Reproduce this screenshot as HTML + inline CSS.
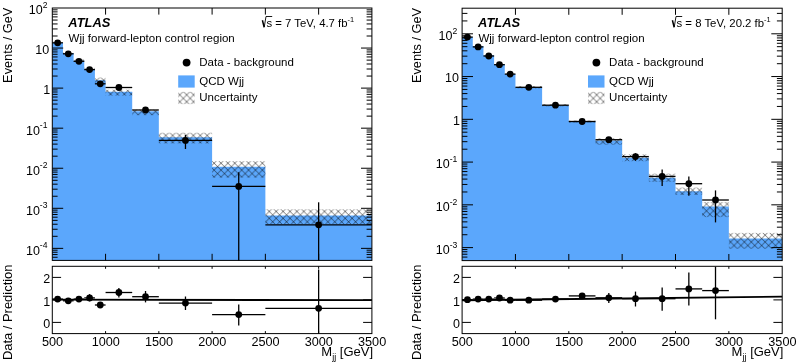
<!DOCTYPE html>
<html><head><meta charset="utf-8"><style>
html,body{margin:0;padding:0;background:#fff;}
svg{display:block;will-change:transform;}
text{font-family:"Liberation Sans",sans-serif;fill:#000;}
.t12{font-size:12px;}
.tl{font-size:12.5px;}
.t13{font-size:13px;}
.t127{font-size:12.7px;}
.sup2{font-size:7.5px;}
.t11{font-size:11.5px;}
.sup{font-size:8.6px;}
.sub{font-size:8.8px;}
.atlas{font-size:12.7px;font-weight:bold;font-style:italic;}
</style></head><body>
<svg width="798" height="363" viewBox="0 0 798 363">
<defs>
<pattern id="hatchL" patternUnits="userSpaceOnUse" width="6.9" height="6.9" patternTransform="translate(214.963,164.925)"><path d="M0.263,-0.600 L7.500,6.638 M-0.600,5.438 L1.462,7.500 M-0.600,4.912 L4.912,-0.600 M3.712,7.500 L7.500,3.712" stroke="#000" stroke-opacity="0.62" stroke-width="0.9" fill="none"/></pattern>
<pattern id="hatchR" patternUnits="userSpaceOnUse" width="6.9" height="6.9" patternTransform="translate(738.362,236.825)"><path d="M0.263,-0.600 L7.500,6.638 M-0.600,5.438 L1.462,7.500 M-0.600,4.912 L4.912,-0.600 M3.712,7.500 L7.500,3.712" stroke="#000" stroke-opacity="0.62" stroke-width="0.9" fill="none"/></pattern>
<pattern id="hatchLL" patternUnits="userSpaceOnUse" width="6.9" height="6.9" patternTransform="translate(180.663,96.625)"><path d="M0.263,-0.600 L7.500,6.638 M-0.600,5.438 L1.462,7.500 M-0.600,4.912 L4.912,-0.600 M3.712,7.500 L7.500,3.712" stroke="#000" stroke-opacity="0.62" stroke-width="0.9" fill="none"/></pattern>
<pattern id="hatchRL" patternUnits="userSpaceOnUse" width="6.9" height="6.9" patternTransform="translate(590.662,96.625)"><path d="M0.263,-0.600 L7.500,6.638 M-0.600,5.438 L1.462,7.500 M-0.600,4.912 L4.912,-0.600 M3.712,7.500 L7.500,3.712" stroke="#000" stroke-opacity="0.62" stroke-width="0.9" fill="none"/></pattern>
</defs>
<rect width="798" height="363" fill="#fff"/>
<polygon fill="#5ba7fc" points="52.3,260.4 52.3,43 62.95,43 62.95,53.1 73.61,53.1 73.61,60.8 84.26,60.8 84.26,68.9 94.91,68.9 94.91,80.3 105.57,80.3 105.57,91.7 132.2,91.7 132.2,111.3 158.83,111.3 158.83,137.2 212.1,137.2 212.1,166.8 265.37,166.8 265.37,215.4 371.9,215.4 371.9,260.4"/>
<rect x="52.3" y="41.5" width="10.65" height="2.1" fill="url(#hatchL)"/>
<rect x="62.95" y="52.2" width="10.65" height="2" fill="url(#hatchL)"/>
<rect x="73.61" y="59.6" width="10.65" height="2.2" fill="url(#hatchL)"/>
<rect x="84.26" y="67.6" width="10.65" height="2.6" fill="url(#hatchL)"/>
<rect x="94.91" y="77.6" width="10.65" height="6.4" fill="url(#hatchL)"/>
<rect x="105.57" y="89.7" width="26.63" height="5.9" fill="url(#hatchL)"/>
<rect x="132.2" y="109.6" width="26.63" height="5.6" fill="url(#hatchL)"/>
<rect x="158.83" y="132.8" width="53.27" height="10.6" fill="url(#hatchL)"/>
<rect x="212.1" y="161.2" width="53.27" height="16.4" fill="url(#hatchL)"/>
<rect x="265.37" y="209.3" width="106.53" height="14.6" fill="url(#hatchL)"/>
<line x1="52.3" y1="42.8" x2="62.95" y2="42.8" stroke="#000" stroke-width="1.3"/>
<circle cx="57.63" cy="42.8" r="3.4" fill="#000"/>
<line x1="62.95" y1="53.8" x2="73.61" y2="53.8" stroke="#000" stroke-width="1.3"/>
<circle cx="68.28" cy="53.8" r="3.4" fill="#000"/>
<line x1="73.61" y1="61.3" x2="84.26" y2="61.3" stroke="#000" stroke-width="1.3"/>
<circle cx="78.93" cy="61.3" r="3.4" fill="#000"/>
<line x1="84.26" y1="69.6" x2="94.91" y2="69.6" stroke="#000" stroke-width="1.3"/>
<circle cx="89.59" cy="69.6" r="3.4" fill="#000"/>
<line x1="94.91" y1="83.8" x2="105.57" y2="83.8" stroke="#000" stroke-width="1.3"/>
<circle cx="100.24" cy="83.8" r="3.4" fill="#000"/>
<line x1="105.57" y1="87.5" x2="132.2" y2="87.5" stroke="#000" stroke-width="1.3"/>
<circle cx="118.88" cy="87.5" r="3.4" fill="#000"/>
<line x1="132.2" y1="110" x2="158.83" y2="110" stroke="#000" stroke-width="1.3"/>
<circle cx="145.52" cy="110" r="3.4" fill="#000"/>
<line x1="158.83" y1="140.4" x2="212.1" y2="140.4" stroke="#000" stroke-width="1.3"/>
<line x1="185.47" y1="135" x2="185.47" y2="149" stroke="#000" stroke-width="1.3"/>
<circle cx="185.47" cy="140.4" r="3.4" fill="#000"/>
<line x1="212.1" y1="186.4" x2="265.37" y2="186.4" stroke="#000" stroke-width="1.3"/>
<line x1="238.73" y1="172.2" x2="238.73" y2="260.4" stroke="#000" stroke-width="1.3"/>
<circle cx="238.73" cy="186.4" r="3.4" fill="#000"/>
<line x1="265.37" y1="224.8" x2="371.9" y2="224.8" stroke="#000" stroke-width="1.3"/>
<line x1="318.63" y1="202.3" x2="318.63" y2="260.4" stroke="#000" stroke-width="1.3"/>
<circle cx="318.63" cy="224.8" r="3.4" fill="#000"/>
<line x1="52.3" y1="257.25" x2="57.6" y2="257.25" stroke="#000" stroke-width="1"/>
<line x1="371.9" y1="257.25" x2="366.6" y2="257.25" stroke="#000" stroke-width="1"/>
<line x1="52.3" y1="254.57" x2="57.6" y2="254.57" stroke="#000" stroke-width="1"/>
<line x1="371.9" y1="254.57" x2="366.6" y2="254.57" stroke="#000" stroke-width="1"/>
<line x1="52.3" y1="252.24" x2="57.6" y2="252.24" stroke="#000" stroke-width="1"/>
<line x1="371.9" y1="252.24" x2="366.6" y2="252.24" stroke="#000" stroke-width="1"/>
<line x1="52.3" y1="250.19" x2="57.6" y2="250.19" stroke="#000" stroke-width="1"/>
<line x1="371.9" y1="250.19" x2="366.6" y2="250.19" stroke="#000" stroke-width="1"/>
<line x1="52.3" y1="248.36" x2="63.2" y2="248.36" stroke="#000" stroke-width="1"/>
<line x1="371.9" y1="248.36" x2="361" y2="248.36" stroke="#000" stroke-width="1"/>
<line x1="52.3" y1="236.3" x2="57.6" y2="236.3" stroke="#000" stroke-width="1"/>
<line x1="371.9" y1="236.3" x2="366.6" y2="236.3" stroke="#000" stroke-width="1"/>
<line x1="52.3" y1="229.25" x2="57.6" y2="229.25" stroke="#000" stroke-width="1"/>
<line x1="371.9" y1="229.25" x2="366.6" y2="229.25" stroke="#000" stroke-width="1"/>
<line x1="52.3" y1="224.24" x2="57.6" y2="224.24" stroke="#000" stroke-width="1"/>
<line x1="371.9" y1="224.24" x2="366.6" y2="224.24" stroke="#000" stroke-width="1"/>
<line x1="52.3" y1="220.36" x2="57.6" y2="220.36" stroke="#000" stroke-width="1"/>
<line x1="371.9" y1="220.36" x2="366.6" y2="220.36" stroke="#000" stroke-width="1"/>
<line x1="52.3" y1="217.19" x2="57.6" y2="217.19" stroke="#000" stroke-width="1"/>
<line x1="371.9" y1="217.19" x2="366.6" y2="217.19" stroke="#000" stroke-width="1"/>
<line x1="52.3" y1="214.51" x2="57.6" y2="214.51" stroke="#000" stroke-width="1"/>
<line x1="371.9" y1="214.51" x2="366.6" y2="214.51" stroke="#000" stroke-width="1"/>
<line x1="52.3" y1="212.18" x2="57.6" y2="212.18" stroke="#000" stroke-width="1"/>
<line x1="371.9" y1="212.18" x2="366.6" y2="212.18" stroke="#000" stroke-width="1"/>
<line x1="52.3" y1="210.13" x2="57.6" y2="210.13" stroke="#000" stroke-width="1"/>
<line x1="371.9" y1="210.13" x2="366.6" y2="210.13" stroke="#000" stroke-width="1"/>
<line x1="52.3" y1="208.3" x2="63.2" y2="208.3" stroke="#000" stroke-width="1"/>
<line x1="371.9" y1="208.3" x2="361" y2="208.3" stroke="#000" stroke-width="1"/>
<line x1="52.3" y1="196.24" x2="57.6" y2="196.24" stroke="#000" stroke-width="1"/>
<line x1="371.9" y1="196.24" x2="366.6" y2="196.24" stroke="#000" stroke-width="1"/>
<line x1="52.3" y1="189.19" x2="57.6" y2="189.19" stroke="#000" stroke-width="1"/>
<line x1="371.9" y1="189.19" x2="366.6" y2="189.19" stroke="#000" stroke-width="1"/>
<line x1="52.3" y1="184.18" x2="57.6" y2="184.18" stroke="#000" stroke-width="1"/>
<line x1="371.9" y1="184.18" x2="366.6" y2="184.18" stroke="#000" stroke-width="1"/>
<line x1="52.3" y1="180.3" x2="57.6" y2="180.3" stroke="#000" stroke-width="1"/>
<line x1="371.9" y1="180.3" x2="366.6" y2="180.3" stroke="#000" stroke-width="1"/>
<line x1="52.3" y1="177.13" x2="57.6" y2="177.13" stroke="#000" stroke-width="1"/>
<line x1="371.9" y1="177.13" x2="366.6" y2="177.13" stroke="#000" stroke-width="1"/>
<line x1="52.3" y1="174.45" x2="57.6" y2="174.45" stroke="#000" stroke-width="1"/>
<line x1="371.9" y1="174.45" x2="366.6" y2="174.45" stroke="#000" stroke-width="1"/>
<line x1="52.3" y1="172.12" x2="57.6" y2="172.12" stroke="#000" stroke-width="1"/>
<line x1="371.9" y1="172.12" x2="366.6" y2="172.12" stroke="#000" stroke-width="1"/>
<line x1="52.3" y1="170.07" x2="57.6" y2="170.07" stroke="#000" stroke-width="1"/>
<line x1="371.9" y1="170.07" x2="366.6" y2="170.07" stroke="#000" stroke-width="1"/>
<line x1="52.3" y1="168.24" x2="63.2" y2="168.24" stroke="#000" stroke-width="1"/>
<line x1="371.9" y1="168.24" x2="361" y2="168.24" stroke="#000" stroke-width="1"/>
<line x1="52.3" y1="156.18" x2="57.6" y2="156.18" stroke="#000" stroke-width="1"/>
<line x1="371.9" y1="156.18" x2="366.6" y2="156.18" stroke="#000" stroke-width="1"/>
<line x1="52.3" y1="149.13" x2="57.6" y2="149.13" stroke="#000" stroke-width="1"/>
<line x1="371.9" y1="149.13" x2="366.6" y2="149.13" stroke="#000" stroke-width="1"/>
<line x1="52.3" y1="144.12" x2="57.6" y2="144.12" stroke="#000" stroke-width="1"/>
<line x1="371.9" y1="144.12" x2="366.6" y2="144.12" stroke="#000" stroke-width="1"/>
<line x1="52.3" y1="140.24" x2="57.6" y2="140.24" stroke="#000" stroke-width="1"/>
<line x1="371.9" y1="140.24" x2="366.6" y2="140.24" stroke="#000" stroke-width="1"/>
<line x1="52.3" y1="137.07" x2="57.6" y2="137.07" stroke="#000" stroke-width="1"/>
<line x1="371.9" y1="137.07" x2="366.6" y2="137.07" stroke="#000" stroke-width="1"/>
<line x1="52.3" y1="134.39" x2="57.6" y2="134.39" stroke="#000" stroke-width="1"/>
<line x1="371.9" y1="134.39" x2="366.6" y2="134.39" stroke="#000" stroke-width="1"/>
<line x1="52.3" y1="132.06" x2="57.6" y2="132.06" stroke="#000" stroke-width="1"/>
<line x1="371.9" y1="132.06" x2="366.6" y2="132.06" stroke="#000" stroke-width="1"/>
<line x1="52.3" y1="130.01" x2="57.6" y2="130.01" stroke="#000" stroke-width="1"/>
<line x1="371.9" y1="130.01" x2="366.6" y2="130.01" stroke="#000" stroke-width="1"/>
<line x1="52.3" y1="128.18" x2="63.2" y2="128.18" stroke="#000" stroke-width="1"/>
<line x1="371.9" y1="128.18" x2="361" y2="128.18" stroke="#000" stroke-width="1"/>
<line x1="52.3" y1="116.12" x2="57.6" y2="116.12" stroke="#000" stroke-width="1"/>
<line x1="371.9" y1="116.12" x2="366.6" y2="116.12" stroke="#000" stroke-width="1"/>
<line x1="52.3" y1="109.07" x2="57.6" y2="109.07" stroke="#000" stroke-width="1"/>
<line x1="371.9" y1="109.07" x2="366.6" y2="109.07" stroke="#000" stroke-width="1"/>
<line x1="52.3" y1="104.06" x2="57.6" y2="104.06" stroke="#000" stroke-width="1"/>
<line x1="371.9" y1="104.06" x2="366.6" y2="104.06" stroke="#000" stroke-width="1"/>
<line x1="52.3" y1="100.18" x2="57.6" y2="100.18" stroke="#000" stroke-width="1"/>
<line x1="371.9" y1="100.18" x2="366.6" y2="100.18" stroke="#000" stroke-width="1"/>
<line x1="52.3" y1="97.01" x2="57.6" y2="97.01" stroke="#000" stroke-width="1"/>
<line x1="371.9" y1="97.01" x2="366.6" y2="97.01" stroke="#000" stroke-width="1"/>
<line x1="52.3" y1="94.33" x2="57.6" y2="94.33" stroke="#000" stroke-width="1"/>
<line x1="371.9" y1="94.33" x2="366.6" y2="94.33" stroke="#000" stroke-width="1"/>
<line x1="52.3" y1="92" x2="57.6" y2="92" stroke="#000" stroke-width="1"/>
<line x1="371.9" y1="92" x2="366.6" y2="92" stroke="#000" stroke-width="1"/>
<line x1="52.3" y1="89.95" x2="57.6" y2="89.95" stroke="#000" stroke-width="1"/>
<line x1="371.9" y1="89.95" x2="366.6" y2="89.95" stroke="#000" stroke-width="1"/>
<line x1="52.3" y1="88.12" x2="63.2" y2="88.12" stroke="#000" stroke-width="1"/>
<line x1="371.9" y1="88.12" x2="361" y2="88.12" stroke="#000" stroke-width="1"/>
<line x1="52.3" y1="76.06" x2="57.6" y2="76.06" stroke="#000" stroke-width="1"/>
<line x1="371.9" y1="76.06" x2="366.6" y2="76.06" stroke="#000" stroke-width="1"/>
<line x1="52.3" y1="69.01" x2="57.6" y2="69.01" stroke="#000" stroke-width="1"/>
<line x1="371.9" y1="69.01" x2="366.6" y2="69.01" stroke="#000" stroke-width="1"/>
<line x1="52.3" y1="64" x2="57.6" y2="64" stroke="#000" stroke-width="1"/>
<line x1="371.9" y1="64" x2="366.6" y2="64" stroke="#000" stroke-width="1"/>
<line x1="52.3" y1="60.12" x2="57.6" y2="60.12" stroke="#000" stroke-width="1"/>
<line x1="371.9" y1="60.12" x2="366.6" y2="60.12" stroke="#000" stroke-width="1"/>
<line x1="52.3" y1="56.95" x2="57.6" y2="56.95" stroke="#000" stroke-width="1"/>
<line x1="371.9" y1="56.95" x2="366.6" y2="56.95" stroke="#000" stroke-width="1"/>
<line x1="52.3" y1="54.27" x2="57.6" y2="54.27" stroke="#000" stroke-width="1"/>
<line x1="371.9" y1="54.27" x2="366.6" y2="54.27" stroke="#000" stroke-width="1"/>
<line x1="52.3" y1="51.94" x2="57.6" y2="51.94" stroke="#000" stroke-width="1"/>
<line x1="371.9" y1="51.94" x2="366.6" y2="51.94" stroke="#000" stroke-width="1"/>
<line x1="52.3" y1="49.89" x2="57.6" y2="49.89" stroke="#000" stroke-width="1"/>
<line x1="371.9" y1="49.89" x2="366.6" y2="49.89" stroke="#000" stroke-width="1"/>
<line x1="52.3" y1="48.06" x2="63.2" y2="48.06" stroke="#000" stroke-width="1"/>
<line x1="371.9" y1="48.06" x2="361" y2="48.06" stroke="#000" stroke-width="1"/>
<line x1="52.3" y1="36" x2="57.6" y2="36" stroke="#000" stroke-width="1"/>
<line x1="371.9" y1="36" x2="366.6" y2="36" stroke="#000" stroke-width="1"/>
<line x1="52.3" y1="28.95" x2="57.6" y2="28.95" stroke="#000" stroke-width="1"/>
<line x1="371.9" y1="28.95" x2="366.6" y2="28.95" stroke="#000" stroke-width="1"/>
<line x1="52.3" y1="23.94" x2="57.6" y2="23.94" stroke="#000" stroke-width="1"/>
<line x1="371.9" y1="23.94" x2="366.6" y2="23.94" stroke="#000" stroke-width="1"/>
<line x1="52.3" y1="20.06" x2="57.6" y2="20.06" stroke="#000" stroke-width="1"/>
<line x1="371.9" y1="20.06" x2="366.6" y2="20.06" stroke="#000" stroke-width="1"/>
<line x1="52.3" y1="16.89" x2="57.6" y2="16.89" stroke="#000" stroke-width="1"/>
<line x1="371.9" y1="16.89" x2="366.6" y2="16.89" stroke="#000" stroke-width="1"/>
<line x1="52.3" y1="14.21" x2="57.6" y2="14.21" stroke="#000" stroke-width="1"/>
<line x1="371.9" y1="14.21" x2="366.6" y2="14.21" stroke="#000" stroke-width="1"/>
<line x1="52.3" y1="11.88" x2="57.6" y2="11.88" stroke="#000" stroke-width="1"/>
<line x1="371.9" y1="11.88" x2="366.6" y2="11.88" stroke="#000" stroke-width="1"/>
<line x1="52.3" y1="9.83" x2="57.6" y2="9.83" stroke="#000" stroke-width="1"/>
<line x1="371.9" y1="9.83" x2="366.6" y2="9.83" stroke="#000" stroke-width="1"/>
<line x1="105.57" y1="8" x2="105.57" y2="14.6" stroke="#000" stroke-width="1"/>
<line x1="105.57" y1="260.4" x2="105.57" y2="253.8" stroke="#000" stroke-width="1"/>
<line x1="158.83" y1="8" x2="158.83" y2="14.6" stroke="#000" stroke-width="1"/>
<line x1="158.83" y1="260.4" x2="158.83" y2="253.8" stroke="#000" stroke-width="1"/>
<line x1="212.1" y1="8" x2="212.1" y2="14.6" stroke="#000" stroke-width="1"/>
<line x1="212.1" y1="260.4" x2="212.1" y2="253.8" stroke="#000" stroke-width="1"/>
<line x1="265.37" y1="8" x2="265.37" y2="14.6" stroke="#000" stroke-width="1"/>
<line x1="265.37" y1="260.4" x2="265.37" y2="253.8" stroke="#000" stroke-width="1"/>
<line x1="318.63" y1="8" x2="318.63" y2="14.6" stroke="#000" stroke-width="1"/>
<line x1="318.63" y1="260.4" x2="318.63" y2="253.8" stroke="#000" stroke-width="1"/>
<rect x="52.3" y="8" width="319.6" height="252.4" fill="none" stroke="#000" stroke-width="1"/>
<line x1="52.3" y1="299.6" x2="371.9" y2="300.2" stroke="#000" stroke-width="1.8"/>
<line x1="52.3" y1="299.1" x2="62.95" y2="299.1" stroke="#000" stroke-width="1.3"/>
<circle cx="57.63" cy="299.1" r="3.4" fill="#000"/>
<line x1="62.95" y1="300.8" x2="73.61" y2="300.8" stroke="#000" stroke-width="1.3"/>
<circle cx="68.28" cy="300.8" r="3.4" fill="#000"/>
<line x1="73.61" y1="299.1" x2="84.26" y2="299.1" stroke="#000" stroke-width="1.3"/>
<circle cx="78.93" cy="299.1" r="3.4" fill="#000"/>
<line x1="84.26" y1="297.9" x2="94.91" y2="297.9" stroke="#000" stroke-width="1.3"/>
<line x1="89.59" y1="294.1" x2="89.59" y2="301.5" stroke="#000" stroke-width="1.3"/>
<circle cx="89.59" cy="297.9" r="3.4" fill="#000"/>
<line x1="94.91" y1="305" x2="105.57" y2="305" stroke="#000" stroke-width="1.3"/>
<circle cx="100.24" cy="305" r="3.4" fill="#000"/>
<line x1="105.57" y1="292.5" x2="132.2" y2="292.5" stroke="#000" stroke-width="1.3"/>
<line x1="118.88" y1="288" x2="118.88" y2="297.5" stroke="#000" stroke-width="1.3"/>
<circle cx="118.88" cy="292.5" r="3.4" fill="#000"/>
<line x1="132.2" y1="296.7" x2="158.83" y2="296.7" stroke="#000" stroke-width="1.3"/>
<line x1="145.52" y1="291" x2="145.52" y2="302.4" stroke="#000" stroke-width="1.3"/>
<circle cx="145.52" cy="296.7" r="3.4" fill="#000"/>
<line x1="158.83" y1="303.1" x2="212.1" y2="303.1" stroke="#000" stroke-width="1.3"/>
<line x1="185.47" y1="296.5" x2="185.47" y2="310" stroke="#000" stroke-width="1.3"/>
<circle cx="185.47" cy="303.1" r="3.4" fill="#000"/>
<line x1="212.1" y1="314.6" x2="265.37" y2="314.6" stroke="#000" stroke-width="1.3"/>
<line x1="238.73" y1="304.5" x2="238.73" y2="325.5" stroke="#000" stroke-width="1.3"/>
<circle cx="238.73" cy="314.6" r="3.4" fill="#000"/>
<line x1="265.37" y1="308.3" x2="371.9" y2="308.3" stroke="#000" stroke-width="1.3"/>
<line x1="318.63" y1="269.5" x2="318.63" y2="333.6" stroke="#000" stroke-width="1.3"/>
<circle cx="318.63" cy="308.3" r="3.4" fill="#000"/>
<line x1="52.3" y1="322.4" x2="61.1" y2="322.4" stroke="#000" stroke-width="1"/>
<line x1="371.9" y1="322.4" x2="363.1" y2="322.4" stroke="#000" stroke-width="1"/>
<line x1="52.3" y1="299.9" x2="61.1" y2="299.9" stroke="#000" stroke-width="1"/>
<line x1="371.9" y1="299.9" x2="363.1" y2="299.9" stroke="#000" stroke-width="1"/>
<line x1="52.3" y1="277.4" x2="61.1" y2="277.4" stroke="#000" stroke-width="1"/>
<line x1="371.9" y1="277.4" x2="363.1" y2="277.4" stroke="#000" stroke-width="1"/>
<line x1="105.57" y1="266.3" x2="105.57" y2="268.8" stroke="#000" stroke-width="1"/>
<line x1="105.57" y1="333.6" x2="105.57" y2="331.1" stroke="#000" stroke-width="1"/>
<line x1="158.83" y1="266.3" x2="158.83" y2="268.8" stroke="#000" stroke-width="1"/>
<line x1="158.83" y1="333.6" x2="158.83" y2="331.1" stroke="#000" stroke-width="1"/>
<line x1="212.1" y1="266.3" x2="212.1" y2="268.8" stroke="#000" stroke-width="1"/>
<line x1="212.1" y1="333.6" x2="212.1" y2="331.1" stroke="#000" stroke-width="1"/>
<line x1="265.37" y1="266.3" x2="265.37" y2="268.8" stroke="#000" stroke-width="1"/>
<line x1="265.37" y1="333.6" x2="265.37" y2="331.1" stroke="#000" stroke-width="1"/>
<line x1="318.63" y1="266.3" x2="318.63" y2="268.8" stroke="#000" stroke-width="1"/>
<line x1="318.63" y1="333.6" x2="318.63" y2="331.1" stroke="#000" stroke-width="1"/>
<rect x="52.3" y="266.3" width="319.6" height="67.3" fill="none" stroke="#000" stroke-width="1"/>
<text x="47.5" y="254.76" text-anchor="end" class="tl">10<tspan class="sup" dy="-6.3">-4</tspan></text>
<text x="47.5" y="214.7" text-anchor="end" class="tl">10<tspan class="sup" dy="-6.3">-3</tspan></text>
<text x="47.5" y="174.64" text-anchor="end" class="tl">10<tspan class="sup" dy="-6.3">-2</tspan></text>
<text x="47.5" y="134.58" text-anchor="end" class="tl">10<tspan class="sup" dy="-6.3">-1</tspan></text>
<text x="50.1" y="94.02" text-anchor="end" class="tl">1</text>
<text x="49.1" y="53.96" text-anchor="end" class="tl">10</text>
<text x="47.5" y="14.4" text-anchor="end" class="tl">10<tspan class="sup" dy="-6.3">2</tspan></text>
<text x="50.2" y="328" text-anchor="end" class="tl">0</text>
<text x="50.2" y="305.5" text-anchor="end" class="tl">1</text>
<text x="50.2" y="283" text-anchor="end" class="tl">2</text>
<text x="52.5" y="345.6" text-anchor="middle" class="t12" textLength="21.2" lengthAdjust="spacingAndGlyphs">500</text>
<text x="105.77" y="345.6" text-anchor="middle" class="t12" textLength="28.2" lengthAdjust="spacingAndGlyphs">1000</text>
<text x="159.03" y="345.6" text-anchor="middle" class="t12" textLength="28.2" lengthAdjust="spacingAndGlyphs">1500</text>
<text x="212.3" y="345.6" text-anchor="middle" class="t12" textLength="28.2" lengthAdjust="spacingAndGlyphs">2000</text>
<text x="265.57" y="345.6" text-anchor="middle" class="t12" textLength="28.2" lengthAdjust="spacingAndGlyphs">2500</text>
<text x="318.83" y="345.6" text-anchor="middle" class="t12" textLength="28.2" lengthAdjust="spacingAndGlyphs">3000</text>
<text x="372.1" y="345.6" text-anchor="middle" class="t12" textLength="28.2" lengthAdjust="spacingAndGlyphs">3500</text>
<text transform="translate(11.5,7.7) rotate(-90)" text-anchor="end" class="t13" textLength="75.2" lengthAdjust="spacingAndGlyphs">Events / GeV</text>
<text transform="translate(11.5,264.5) rotate(-90)" text-anchor="end" class="t13" textLength="95.6" lengthAdjust="spacingAndGlyphs">Data / Prediction</text>
<text x="373.1" y="355.7" text-anchor="end" class="t13">M<tspan class="sub" dx="0.2" dy="4.3">jj</tspan><tspan dy="-4.3"> [GeV]</tspan></text>
<text x="68.3" y="26.8" class="atlas" textLength="42" lengthAdjust="spacingAndGlyphs">ATLAS</text>
<text x="68.6" y="41.6" class="t11" textLength="166.2" lengthAdjust="spacingAndGlyphs">Wjj forward-lepton control region</text>
<path d="M262.4,20.3 L264.2,27.2" fill="none" stroke="#000" stroke-width="1.5"/>
<path d="M264.2,27.2 L266,16.5 L272.2,16.5" fill="none" stroke="#000" stroke-width="0.9"/>
<text x="266.5" y="26.6" class="t11" textLength="87.6" lengthAdjust="spacingAndGlyphs">s = 7 TeV, 4.7 fb<tspan class="sup2" dy="-4.6">-1</tspan></text>
<circle cx="186.6" cy="62.6" r="3.9" fill="#000"/>
<text x="199.3" y="65.8" class="t11">Data - background</text>
<rect x="178.2" y="75.4" width="16.5" height="12.2" fill="#5ba7fc"/>
<text x="199.3" y="84.8" class="t11">QCD Wjj</text>
<rect x="178.2" y="91.9" width="16.5" height="12.2" fill="url(#hatchLL)"/>
<text x="199.3" y="101.2" class="t11">Uncertainty</text>
<polygon fill="#5ba7fc" points="462.1,260.6 462.1,37 472.77,37 472.77,45.9 483.44,45.9 483.44,55.3 494.11,55.3 494.11,64.1 504.78,64.1 504.78,73.9 515.45,73.9 515.45,87.3 542.12,87.3 542.12,105.3 568.8,105.3 568.8,121.6 595.48,121.6 595.48,140.4 622.15,140.4 622.15,157.8 648.83,157.8 648.83,177.8 675.5,177.8 675.5,191.2 702.17,191.2 702.17,206.5 728.85,206.5 728.85,238.4 782.2,238.4 782.2,260.6"/>
<rect x="515.45" y="86.2" width="26.67" height="2.2" fill="url(#hatchR)"/>
<rect x="542.12" y="104.2" width="26.68" height="2.2" fill="url(#hatchR)"/>
<rect x="568.8" y="120.4" width="26.67" height="2.4" fill="url(#hatchR)"/>
<rect x="595.48" y="138.4" width="26.68" height="6.2" fill="url(#hatchR)"/>
<rect x="622.15" y="154.4" width="26.67" height="6.8" fill="url(#hatchR)"/>
<rect x="648.83" y="173.7" width="26.67" height="8.2" fill="url(#hatchR)"/>
<rect x="675.5" y="187.6" width="26.67" height="7.4" fill="url(#hatchR)"/>
<rect x="702.17" y="202" width="26.68" height="15.1" fill="url(#hatchR)"/>
<rect x="728.85" y="232.9" width="53.35" height="15.7" fill="url(#hatchR)"/>
<line x1="462.1" y1="37.1" x2="472.77" y2="37.1" stroke="#000" stroke-width="1.3"/>
<circle cx="467.44" cy="37.1" r="3.4" fill="#000"/>
<line x1="472.77" y1="46.9" x2="483.44" y2="46.9" stroke="#000" stroke-width="1.3"/>
<circle cx="478.11" cy="46.9" r="3.4" fill="#000"/>
<line x1="483.44" y1="56" x2="494.11" y2="56" stroke="#000" stroke-width="1.3"/>
<circle cx="488.78" cy="56" r="3.4" fill="#000"/>
<line x1="494.11" y1="64.7" x2="504.78" y2="64.7" stroke="#000" stroke-width="1.3"/>
<circle cx="499.45" cy="64.7" r="3.4" fill="#000"/>
<line x1="504.78" y1="74.1" x2="515.45" y2="74.1" stroke="#000" stroke-width="1.3"/>
<circle cx="510.12" cy="74.1" r="3.4" fill="#000"/>
<line x1="515.45" y1="87.3" x2="542.12" y2="87.3" stroke="#000" stroke-width="1.3"/>
<circle cx="528.79" cy="87.3" r="3.4" fill="#000"/>
<line x1="542.12" y1="105.2" x2="568.8" y2="105.2" stroke="#000" stroke-width="1.3"/>
<circle cx="555.46" cy="105.2" r="3.4" fill="#000"/>
<line x1="568.8" y1="121.5" x2="595.48" y2="121.5" stroke="#000" stroke-width="1.3"/>
<circle cx="582.14" cy="121.5" r="3.4" fill="#000"/>
<line x1="595.48" y1="139.7" x2="622.15" y2="139.7" stroke="#000" stroke-width="1.3"/>
<circle cx="608.81" cy="139.7" r="3.4" fill="#000"/>
<line x1="622.15" y1="156.6" x2="648.83" y2="156.6" stroke="#000" stroke-width="1.3"/>
<line x1="635.49" y1="153.2" x2="635.49" y2="160.8" stroke="#000" stroke-width="1.3"/>
<circle cx="635.49" cy="156.6" r="3.4" fill="#000"/>
<line x1="648.83" y1="176.4" x2="675.5" y2="176.4" stroke="#000" stroke-width="1.3"/>
<line x1="662.16" y1="169.5" x2="662.16" y2="186" stroke="#000" stroke-width="1.3"/>
<circle cx="662.16" cy="176.4" r="3.4" fill="#000"/>
<line x1="675.5" y1="183.7" x2="702.17" y2="183.7" stroke="#000" stroke-width="1.3"/>
<line x1="688.84" y1="176.4" x2="688.84" y2="195.7" stroke="#000" stroke-width="1.3"/>
<circle cx="688.84" cy="183.7" r="3.4" fill="#000"/>
<line x1="702.17" y1="200" x2="728.85" y2="200" stroke="#000" stroke-width="1.3"/>
<line x1="715.51" y1="190.4" x2="715.51" y2="222.4" stroke="#000" stroke-width="1.3"/>
<circle cx="715.51" cy="200" r="3.4" fill="#000"/>
<line x1="462.1" y1="257.09" x2="467.4" y2="257.09" stroke="#000" stroke-width="1"/>
<line x1="782.2" y1="257.09" x2="776.9" y2="257.09" stroke="#000" stroke-width="1"/>
<line x1="462.1" y1="254.22" x2="467.4" y2="254.22" stroke="#000" stroke-width="1"/>
<line x1="782.2" y1="254.22" x2="776.9" y2="254.22" stroke="#000" stroke-width="1"/>
<line x1="462.1" y1="251.74" x2="467.4" y2="251.74" stroke="#000" stroke-width="1"/>
<line x1="782.2" y1="251.74" x2="776.9" y2="251.74" stroke="#000" stroke-width="1"/>
<line x1="462.1" y1="249.56" x2="467.4" y2="249.56" stroke="#000" stroke-width="1"/>
<line x1="782.2" y1="249.56" x2="776.9" y2="249.56" stroke="#000" stroke-width="1"/>
<line x1="462.1" y1="247.6" x2="473" y2="247.6" stroke="#000" stroke-width="1"/>
<line x1="782.2" y1="247.6" x2="771.3" y2="247.6" stroke="#000" stroke-width="1"/>
<line x1="462.1" y1="234.73" x2="467.4" y2="234.73" stroke="#000" stroke-width="1"/>
<line x1="782.2" y1="234.73" x2="776.9" y2="234.73" stroke="#000" stroke-width="1"/>
<line x1="462.1" y1="227.2" x2="467.4" y2="227.2" stroke="#000" stroke-width="1"/>
<line x1="782.2" y1="227.2" x2="776.9" y2="227.2" stroke="#000" stroke-width="1"/>
<line x1="462.1" y1="221.86" x2="467.4" y2="221.86" stroke="#000" stroke-width="1"/>
<line x1="782.2" y1="221.86" x2="776.9" y2="221.86" stroke="#000" stroke-width="1"/>
<line x1="462.1" y1="217.71" x2="467.4" y2="217.71" stroke="#000" stroke-width="1"/>
<line x1="782.2" y1="217.71" x2="776.9" y2="217.71" stroke="#000" stroke-width="1"/>
<line x1="462.1" y1="214.33" x2="467.4" y2="214.33" stroke="#000" stroke-width="1"/>
<line x1="782.2" y1="214.33" x2="776.9" y2="214.33" stroke="#000" stroke-width="1"/>
<line x1="462.1" y1="211.46" x2="467.4" y2="211.46" stroke="#000" stroke-width="1"/>
<line x1="782.2" y1="211.46" x2="776.9" y2="211.46" stroke="#000" stroke-width="1"/>
<line x1="462.1" y1="208.98" x2="467.4" y2="208.98" stroke="#000" stroke-width="1"/>
<line x1="782.2" y1="208.98" x2="776.9" y2="208.98" stroke="#000" stroke-width="1"/>
<line x1="462.1" y1="206.8" x2="467.4" y2="206.8" stroke="#000" stroke-width="1"/>
<line x1="782.2" y1="206.8" x2="776.9" y2="206.8" stroke="#000" stroke-width="1"/>
<line x1="462.1" y1="204.84" x2="473" y2="204.84" stroke="#000" stroke-width="1"/>
<line x1="782.2" y1="204.84" x2="771.3" y2="204.84" stroke="#000" stroke-width="1"/>
<line x1="462.1" y1="191.97" x2="467.4" y2="191.97" stroke="#000" stroke-width="1"/>
<line x1="782.2" y1="191.97" x2="776.9" y2="191.97" stroke="#000" stroke-width="1"/>
<line x1="462.1" y1="184.44" x2="467.4" y2="184.44" stroke="#000" stroke-width="1"/>
<line x1="782.2" y1="184.44" x2="776.9" y2="184.44" stroke="#000" stroke-width="1"/>
<line x1="462.1" y1="179.1" x2="467.4" y2="179.1" stroke="#000" stroke-width="1"/>
<line x1="782.2" y1="179.1" x2="776.9" y2="179.1" stroke="#000" stroke-width="1"/>
<line x1="462.1" y1="174.95" x2="467.4" y2="174.95" stroke="#000" stroke-width="1"/>
<line x1="782.2" y1="174.95" x2="776.9" y2="174.95" stroke="#000" stroke-width="1"/>
<line x1="462.1" y1="171.57" x2="467.4" y2="171.57" stroke="#000" stroke-width="1"/>
<line x1="782.2" y1="171.57" x2="776.9" y2="171.57" stroke="#000" stroke-width="1"/>
<line x1="462.1" y1="168.7" x2="467.4" y2="168.7" stroke="#000" stroke-width="1"/>
<line x1="782.2" y1="168.7" x2="776.9" y2="168.7" stroke="#000" stroke-width="1"/>
<line x1="462.1" y1="166.22" x2="467.4" y2="166.22" stroke="#000" stroke-width="1"/>
<line x1="782.2" y1="166.22" x2="776.9" y2="166.22" stroke="#000" stroke-width="1"/>
<line x1="462.1" y1="164.04" x2="467.4" y2="164.04" stroke="#000" stroke-width="1"/>
<line x1="782.2" y1="164.04" x2="776.9" y2="164.04" stroke="#000" stroke-width="1"/>
<line x1="462.1" y1="162.08" x2="473" y2="162.08" stroke="#000" stroke-width="1"/>
<line x1="782.2" y1="162.08" x2="771.3" y2="162.08" stroke="#000" stroke-width="1"/>
<line x1="462.1" y1="149.21" x2="467.4" y2="149.21" stroke="#000" stroke-width="1"/>
<line x1="782.2" y1="149.21" x2="776.9" y2="149.21" stroke="#000" stroke-width="1"/>
<line x1="462.1" y1="141.68" x2="467.4" y2="141.68" stroke="#000" stroke-width="1"/>
<line x1="782.2" y1="141.68" x2="776.9" y2="141.68" stroke="#000" stroke-width="1"/>
<line x1="462.1" y1="136.34" x2="467.4" y2="136.34" stroke="#000" stroke-width="1"/>
<line x1="782.2" y1="136.34" x2="776.9" y2="136.34" stroke="#000" stroke-width="1"/>
<line x1="462.1" y1="132.19" x2="467.4" y2="132.19" stroke="#000" stroke-width="1"/>
<line x1="782.2" y1="132.19" x2="776.9" y2="132.19" stroke="#000" stroke-width="1"/>
<line x1="462.1" y1="128.81" x2="467.4" y2="128.81" stroke="#000" stroke-width="1"/>
<line x1="782.2" y1="128.81" x2="776.9" y2="128.81" stroke="#000" stroke-width="1"/>
<line x1="462.1" y1="125.94" x2="467.4" y2="125.94" stroke="#000" stroke-width="1"/>
<line x1="782.2" y1="125.94" x2="776.9" y2="125.94" stroke="#000" stroke-width="1"/>
<line x1="462.1" y1="123.46" x2="467.4" y2="123.46" stroke="#000" stroke-width="1"/>
<line x1="782.2" y1="123.46" x2="776.9" y2="123.46" stroke="#000" stroke-width="1"/>
<line x1="462.1" y1="121.28" x2="467.4" y2="121.28" stroke="#000" stroke-width="1"/>
<line x1="782.2" y1="121.28" x2="776.9" y2="121.28" stroke="#000" stroke-width="1"/>
<line x1="462.1" y1="119.32" x2="473" y2="119.32" stroke="#000" stroke-width="1"/>
<line x1="782.2" y1="119.32" x2="771.3" y2="119.32" stroke="#000" stroke-width="1"/>
<line x1="462.1" y1="106.45" x2="467.4" y2="106.45" stroke="#000" stroke-width="1"/>
<line x1="782.2" y1="106.45" x2="776.9" y2="106.45" stroke="#000" stroke-width="1"/>
<line x1="462.1" y1="98.92" x2="467.4" y2="98.92" stroke="#000" stroke-width="1"/>
<line x1="782.2" y1="98.92" x2="776.9" y2="98.92" stroke="#000" stroke-width="1"/>
<line x1="462.1" y1="93.58" x2="467.4" y2="93.58" stroke="#000" stroke-width="1"/>
<line x1="782.2" y1="93.58" x2="776.9" y2="93.58" stroke="#000" stroke-width="1"/>
<line x1="462.1" y1="89.43" x2="467.4" y2="89.43" stroke="#000" stroke-width="1"/>
<line x1="782.2" y1="89.43" x2="776.9" y2="89.43" stroke="#000" stroke-width="1"/>
<line x1="462.1" y1="86.05" x2="467.4" y2="86.05" stroke="#000" stroke-width="1"/>
<line x1="782.2" y1="86.05" x2="776.9" y2="86.05" stroke="#000" stroke-width="1"/>
<line x1="462.1" y1="83.18" x2="467.4" y2="83.18" stroke="#000" stroke-width="1"/>
<line x1="782.2" y1="83.18" x2="776.9" y2="83.18" stroke="#000" stroke-width="1"/>
<line x1="462.1" y1="80.7" x2="467.4" y2="80.7" stroke="#000" stroke-width="1"/>
<line x1="782.2" y1="80.7" x2="776.9" y2="80.7" stroke="#000" stroke-width="1"/>
<line x1="462.1" y1="78.52" x2="467.4" y2="78.52" stroke="#000" stroke-width="1"/>
<line x1="782.2" y1="78.52" x2="776.9" y2="78.52" stroke="#000" stroke-width="1"/>
<line x1="462.1" y1="76.56" x2="473" y2="76.56" stroke="#000" stroke-width="1"/>
<line x1="782.2" y1="76.56" x2="771.3" y2="76.56" stroke="#000" stroke-width="1"/>
<line x1="462.1" y1="63.69" x2="467.4" y2="63.69" stroke="#000" stroke-width="1"/>
<line x1="782.2" y1="63.69" x2="776.9" y2="63.69" stroke="#000" stroke-width="1"/>
<line x1="462.1" y1="56.16" x2="467.4" y2="56.16" stroke="#000" stroke-width="1"/>
<line x1="782.2" y1="56.16" x2="776.9" y2="56.16" stroke="#000" stroke-width="1"/>
<line x1="462.1" y1="50.82" x2="467.4" y2="50.82" stroke="#000" stroke-width="1"/>
<line x1="782.2" y1="50.82" x2="776.9" y2="50.82" stroke="#000" stroke-width="1"/>
<line x1="462.1" y1="46.67" x2="467.4" y2="46.67" stroke="#000" stroke-width="1"/>
<line x1="782.2" y1="46.67" x2="776.9" y2="46.67" stroke="#000" stroke-width="1"/>
<line x1="462.1" y1="43.29" x2="467.4" y2="43.29" stroke="#000" stroke-width="1"/>
<line x1="782.2" y1="43.29" x2="776.9" y2="43.29" stroke="#000" stroke-width="1"/>
<line x1="462.1" y1="40.42" x2="467.4" y2="40.42" stroke="#000" stroke-width="1"/>
<line x1="782.2" y1="40.42" x2="776.9" y2="40.42" stroke="#000" stroke-width="1"/>
<line x1="462.1" y1="37.94" x2="467.4" y2="37.94" stroke="#000" stroke-width="1"/>
<line x1="782.2" y1="37.94" x2="776.9" y2="37.94" stroke="#000" stroke-width="1"/>
<line x1="462.1" y1="35.76" x2="467.4" y2="35.76" stroke="#000" stroke-width="1"/>
<line x1="782.2" y1="35.76" x2="776.9" y2="35.76" stroke="#000" stroke-width="1"/>
<line x1="462.1" y1="33.8" x2="473" y2="33.8" stroke="#000" stroke-width="1"/>
<line x1="782.2" y1="33.8" x2="771.3" y2="33.8" stroke="#000" stroke-width="1"/>
<line x1="462.1" y1="20.93" x2="467.4" y2="20.93" stroke="#000" stroke-width="1"/>
<line x1="782.2" y1="20.93" x2="776.9" y2="20.93" stroke="#000" stroke-width="1"/>
<line x1="462.1" y1="13.4" x2="467.4" y2="13.4" stroke="#000" stroke-width="1"/>
<line x1="782.2" y1="13.4" x2="776.9" y2="13.4" stroke="#000" stroke-width="1"/>
<line x1="515.45" y1="8.2" x2="515.45" y2="14.8" stroke="#000" stroke-width="1"/>
<line x1="515.45" y1="260.6" x2="515.45" y2="254" stroke="#000" stroke-width="1"/>
<line x1="568.8" y1="8.2" x2="568.8" y2="14.8" stroke="#000" stroke-width="1"/>
<line x1="568.8" y1="260.6" x2="568.8" y2="254" stroke="#000" stroke-width="1"/>
<line x1="622.15" y1="8.2" x2="622.15" y2="14.8" stroke="#000" stroke-width="1"/>
<line x1="622.15" y1="260.6" x2="622.15" y2="254" stroke="#000" stroke-width="1"/>
<line x1="675.5" y1="8.2" x2="675.5" y2="14.8" stroke="#000" stroke-width="1"/>
<line x1="675.5" y1="260.6" x2="675.5" y2="254" stroke="#000" stroke-width="1"/>
<line x1="728.85" y1="8.2" x2="728.85" y2="14.8" stroke="#000" stroke-width="1"/>
<line x1="728.85" y1="260.6" x2="728.85" y2="254" stroke="#000" stroke-width="1"/>
<rect x="462.1" y="8.2" width="320.1" height="252.4" fill="none" stroke="#000" stroke-width="1"/>
<line x1="462.1" y1="300.3" x2="782.2" y2="296.6" stroke="#000" stroke-width="1.8"/>
<line x1="462.1" y1="299.7" x2="472.77" y2="299.7" stroke="#000" stroke-width="1.3"/>
<circle cx="467.44" cy="299.7" r="3.4" fill="#000"/>
<line x1="472.77" y1="299.1" x2="483.44" y2="299.1" stroke="#000" stroke-width="1.3"/>
<circle cx="478.11" cy="299.1" r="3.4" fill="#000"/>
<line x1="483.44" y1="299.1" x2="494.11" y2="299.1" stroke="#000" stroke-width="1.3"/>
<circle cx="488.78" cy="299.1" r="3.4" fill="#000"/>
<line x1="494.11" y1="298" x2="504.78" y2="298" stroke="#000" stroke-width="1.3"/>
<circle cx="499.45" cy="298" r="3.4" fill="#000"/>
<line x1="504.78" y1="300.2" x2="515.45" y2="300.2" stroke="#000" stroke-width="1.3"/>
<circle cx="510.12" cy="300.2" r="3.4" fill="#000"/>
<line x1="515.45" y1="300.2" x2="542.12" y2="300.2" stroke="#000" stroke-width="1.3"/>
<circle cx="528.79" cy="300.2" r="3.4" fill="#000"/>
<line x1="542.12" y1="299.1" x2="568.8" y2="299.1" stroke="#000" stroke-width="1.3"/>
<circle cx="555.46" cy="299.1" r="3.4" fill="#000"/>
<line x1="568.8" y1="295.9" x2="595.48" y2="295.9" stroke="#000" stroke-width="1.3"/>
<circle cx="582.14" cy="295.9" r="3.4" fill="#000"/>
<line x1="595.48" y1="297.8" x2="622.15" y2="297.8" stroke="#000" stroke-width="1.3"/>
<line x1="608.81" y1="293" x2="608.81" y2="303" stroke="#000" stroke-width="1.3"/>
<circle cx="608.81" cy="297.8" r="3.4" fill="#000"/>
<line x1="622.15" y1="298.7" x2="648.83" y2="298.7" stroke="#000" stroke-width="1.3"/>
<line x1="635.49" y1="291.6" x2="635.49" y2="306.5" stroke="#000" stroke-width="1.3"/>
<circle cx="635.49" cy="298.7" r="3.4" fill="#000"/>
<line x1="648.83" y1="298.7" x2="675.5" y2="298.7" stroke="#000" stroke-width="1.3"/>
<line x1="662.16" y1="287.4" x2="662.16" y2="310.8" stroke="#000" stroke-width="1.3"/>
<circle cx="662.16" cy="298.7" r="3.4" fill="#000"/>
<line x1="675.5" y1="288.9" x2="702.17" y2="288.9" stroke="#000" stroke-width="1.3"/>
<line x1="688.84" y1="272.5" x2="688.84" y2="305.5" stroke="#000" stroke-width="1.3"/>
<circle cx="688.84" cy="288.9" r="3.4" fill="#000"/>
<line x1="702.17" y1="290.6" x2="728.85" y2="290.6" stroke="#000" stroke-width="1.3"/>
<line x1="715.51" y1="266.7" x2="715.51" y2="319.3" stroke="#000" stroke-width="1.3"/>
<circle cx="715.51" cy="290.6" r="3.4" fill="#000"/>
<line x1="462.1" y1="322.4" x2="470.9" y2="322.4" stroke="#000" stroke-width="1"/>
<line x1="782.2" y1="322.4" x2="773.4" y2="322.4" stroke="#000" stroke-width="1"/>
<line x1="462.1" y1="299.9" x2="470.9" y2="299.9" stroke="#000" stroke-width="1"/>
<line x1="782.2" y1="299.9" x2="773.4" y2="299.9" stroke="#000" stroke-width="1"/>
<line x1="462.1" y1="277.4" x2="470.9" y2="277.4" stroke="#000" stroke-width="1"/>
<line x1="782.2" y1="277.4" x2="773.4" y2="277.4" stroke="#000" stroke-width="1"/>
<line x1="515.45" y1="266.3" x2="515.45" y2="268.8" stroke="#000" stroke-width="1"/>
<line x1="515.45" y1="333.6" x2="515.45" y2="331.1" stroke="#000" stroke-width="1"/>
<line x1="568.8" y1="266.3" x2="568.8" y2="268.8" stroke="#000" stroke-width="1"/>
<line x1="568.8" y1="333.6" x2="568.8" y2="331.1" stroke="#000" stroke-width="1"/>
<line x1="622.15" y1="266.3" x2="622.15" y2="268.8" stroke="#000" stroke-width="1"/>
<line x1="622.15" y1="333.6" x2="622.15" y2="331.1" stroke="#000" stroke-width="1"/>
<line x1="675.5" y1="266.3" x2="675.5" y2="268.8" stroke="#000" stroke-width="1"/>
<line x1="675.5" y1="333.6" x2="675.5" y2="331.1" stroke="#000" stroke-width="1"/>
<line x1="728.85" y1="266.3" x2="728.85" y2="268.8" stroke="#000" stroke-width="1"/>
<line x1="728.85" y1="333.6" x2="728.85" y2="331.1" stroke="#000" stroke-width="1"/>
<rect x="462.1" y="266.3" width="320.1" height="67.3" fill="none" stroke="#000" stroke-width="1"/>
<text x="457.3" y="254" text-anchor="end" class="tl">10<tspan class="sup" dy="-6.3">-3</tspan></text>
<text x="457.3" y="211.24" text-anchor="end" class="tl">10<tspan class="sup" dy="-6.3">-2</tspan></text>
<text x="457.3" y="168.48" text-anchor="end" class="tl">10<tspan class="sup" dy="-6.3">-1</tspan></text>
<text x="459.9" y="125.22" text-anchor="end" class="tl">1</text>
<text x="458.9" y="82.46" text-anchor="end" class="tl">10</text>
<text x="457.3" y="40.2" text-anchor="end" class="tl">10<tspan class="sup" dy="-6.3">2</tspan></text>
<text x="460" y="328" text-anchor="end" class="tl">0</text>
<text x="460" y="305.5" text-anchor="end" class="tl">1</text>
<text x="460" y="283" text-anchor="end" class="tl">2</text>
<text x="462.3" y="345.6" text-anchor="middle" class="t12" textLength="21.2" lengthAdjust="spacingAndGlyphs">500</text>
<text x="515.65" y="345.6" text-anchor="middle" class="t12" textLength="28.2" lengthAdjust="spacingAndGlyphs">1000</text>
<text x="569" y="345.6" text-anchor="middle" class="t12" textLength="28.2" lengthAdjust="spacingAndGlyphs">1500</text>
<text x="622.35" y="345.6" text-anchor="middle" class="t12" textLength="28.2" lengthAdjust="spacingAndGlyphs">2000</text>
<text x="675.7" y="345.6" text-anchor="middle" class="t12" textLength="28.2" lengthAdjust="spacingAndGlyphs">2500</text>
<text x="729.05" y="345.6" text-anchor="middle" class="t12" textLength="28.2" lengthAdjust="spacingAndGlyphs">3000</text>
<text x="782.4" y="345.6" text-anchor="middle" class="t12" textLength="28.2" lengthAdjust="spacingAndGlyphs">3500</text>
<text transform="translate(421.3,7.9) rotate(-90)" text-anchor="end" class="t13" textLength="75.2" lengthAdjust="spacingAndGlyphs">Events / GeV</text>
<text transform="translate(421.3,264.5) rotate(-90)" text-anchor="end" class="t13" textLength="95.6" lengthAdjust="spacingAndGlyphs">Data / Prediction</text>
<text x="783.4" y="355.7" text-anchor="end" class="t13">M<tspan class="sub" dx="0.2" dy="4.3">jj</tspan><tspan dy="-4.3"> [GeV]</tspan></text>
<text x="478.1" y="26.8" class="atlas" textLength="42" lengthAdjust="spacingAndGlyphs">ATLAS</text>
<text x="478.4" y="41.6" class="t11" textLength="166.2" lengthAdjust="spacingAndGlyphs">Wjj forward-lepton control region</text>
<path d="M672.4,20.3 L674.2,27.2" fill="none" stroke="#000" stroke-width="1.5"/>
<path d="M674.2,27.2 L676,16.5 L682.2,16.5" fill="none" stroke="#000" stroke-width="0.9"/>
<text x="676.5" y="26.6" class="t11" textLength="94.2" lengthAdjust="spacingAndGlyphs">s = 8 TeV, 20.2 fb<tspan class="sup2" dy="-4.6">-1</tspan></text>
<circle cx="596.4" cy="62.6" r="3.9" fill="#000"/>
<text x="609.1" y="65.8" class="t11">Data - background</text>
<rect x="588" y="75.4" width="16.5" height="12.2" fill="#5ba7fc"/>
<text x="609.1" y="84.8" class="t11">QCD Wjj</text>
<rect x="588" y="91.9" width="16.5" height="12.2" fill="url(#hatchRL)"/>
<text x="609.1" y="101.2" class="t11">Uncertainty</text>
</svg>
</body></html>
